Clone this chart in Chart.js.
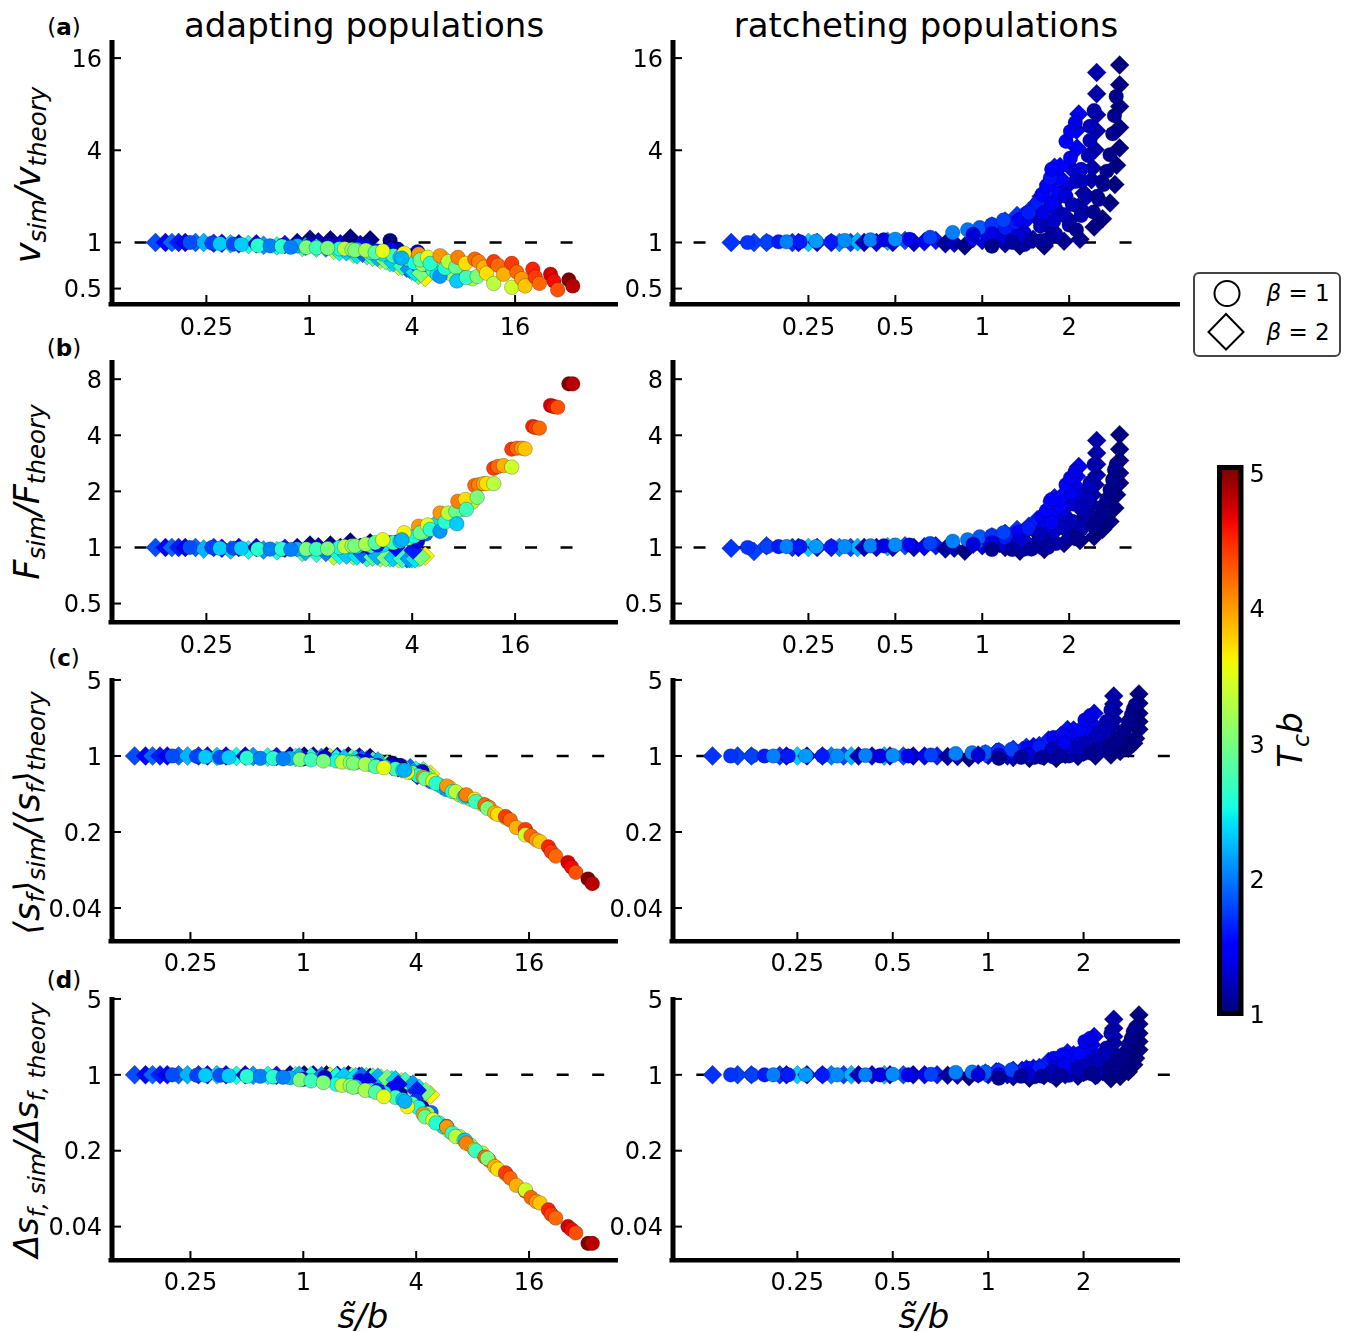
<!DOCTYPE html>
<html>
<head>
<meta charset="utf-8">
<title>adapting and ratcheting populations</title>
<script src="https://cdn.jsdelivr.net/npm/chart.js@4"></script>
<style>
  body { margin: 0; background: #fff; }
  #page { position: relative; width: 1346px; height: 1332px; overflow: hidden; font-family: "DejaVu Sans", sans-serif; color: #000; }
  canvas { position: absolute; }
  .text { position: absolute; transform: translate(-50%, -50%); white-space: nowrap; line-height: 1; }
  .rot { transform: translate(-50%, -50%) rotate(-90deg); }
  .math { font-style: italic; }
  .math sub { font-size: .7em; vertical-align: -.28em; line-height: 0; }
  #legend { position: absolute; left: 1193px; top: 272px; width: 144px; height: 81px; border: 2px solid #444; border-radius: 6px; background: #fff; }
</style>
</head>
<body>
<div id="page">
  <div class="text" style="left:364px;top:25px;font-size:34px">adapting populations</div>
  <div class="text" style="left:926px;top:25px;font-size:34px">ratcheting populations</div>

  <div class="text" style="left:64px;top:27px;font-size:23px">(<b>a</b>)</div>
  <div class="text" style="left:64px;top:348px;font-size:23px">(<b>b</b>)</div>
  <div class="text" style="left:64px;top:658px;font-size:23px">(<b>c</b>)</div>
  <div class="text" style="left:64px;top:980px;font-size:23px">(<b>d</b>)</div>

  <div class="text rot math" style="left:28px;top:175px;font-size:35px">v<sub>sim</sub>/v<sub>theory</sub></div>
  <div class="text rot math" style="left:27px;top:492px;font-size:35px">F<sub>sim</sub>/F<sub>theory</sub></div>
  <div class="text rot math" style="left:27px;top:813px;font-size:35px">⟨s<sub>f</sub>⟩<sub>sim</sub>/⟨s<sub>f</sub>⟩<sub>theory</sub></div>
  <div class="text rot math" style="left:27px;top:1130px;font-size:33.5px">Δs<sub>f, sim</sub>/Δs<sub>f, theory</sub></div>

  <div class="text math" style="left:363px;top:1316px;font-size:34px">s̃/b</div>
  <div class="text math" style="left:924px;top:1316px;font-size:34px">s̃/b</div>
  <div class="text rot math" style="left:1290px;top:740px;font-size:34px">T<sub>c</sub>b</div>

  <div id="legend"></div>
  <svg style="position:absolute;left:1193px;top:272px" width="80" height="84">
    <circle cx="34" cy="21.5" r="12.5" fill="none" stroke="#000" stroke-width="2"></circle>
    <polygon points="33,42 50.5,60 33,77.5 15.5,60" fill="none" stroke="#000" stroke-width="2"></polygon>
  </svg>
  <div class="text" style="left:1298px;top:293px;font-size:23px"><i>β</i> = 1</div>
  <div class="text" style="left:1298px;top:332px;font-size:23px"><i>β</i> = 2</div>
</div>

<script>
// adapting populations, circles (beta = 1)
const adaptCircleX = [2.97,3.29,1.3,2.0,3.0,4.0,4.8,4.3,
  1.5,1.9,2.3,2.7,3.1,3.4,3.8,4.1,4.6,5.3,5.6,6.8,7.8,9,1.0,.85,.7,2.5,
  .20,.27,.30,.36,.40,.50,.59,.69,.78,.96,
  1.10,1.28,1.61,1.78,1.85,2.14,2.43,2.69,
  3.59,3.48,4.36,4.46,4.92,5.1,5.82,6.05,5.82,6.23,
  6.5,7.2,7.3,7.4,8.2,8.3,9.3,9.8,9.6,10.5,
  10.9,12,12,12.7,13.7,15.3,15.3,16.4,17.5,18.3,
  20.3,21,22.2,25.8,27,28.4,33,34.8];
const adaptCircleT = [1.0,1.1,1.3,1.4,1.5,1.7,1.9,1.3,
  2.5,2.3,2.6,2.4,2.7,2.3,2.9,2.5,3.1,2.7,2.4,3.2,3.0,3.3,1.5,2.2,1.6,1.6,
  1.8,1.75,2.3,1.8,2.3,2.6,2.0,2.6,2.0,3.0,
  2.7,3.0,3.3,3.1,3.0,3.2,2.8,3.5,
  3.6,2.2,4.0,2.9,3.5,2.6,2.1,3.7,4.0,2.6,
  3.3,2.9,2.3,4.1,3.7,2.7,4.2,4.1,3.0,3.9,
  3.7,3.3,4.4,4.2,3.9,4.4,3.4,4.2,4.0,3.8,
  4.5,4.4,4.2,4.7,4.6,4.3,5.0,4.8];
const adaptCircleV = [1.03,.905,.97,.94,.90,.82,.72,.87,
  .91,.90,.86,.84,.82,.80,.78,.74,.72,.66,.62,.62,.60,.58,.95,.95,.96,.88,
  1,.99,.98,.975,.97,.955,.95,.945,.93,.93,
  .925,.92,.91,.90,.89,.89,.86,.88,
  .85,.79,.84,.77,.80,.73,.60,.79,.82,.68,
  .75,.69,.56,.80,.73,.59,.78,.75,.60,.69,
  .63,.54,.75,.71,.62,.73,.51,.64,.58,.52,
  .67,.595,.54,.62,.56,.49,.57,.52];
const adaptCircleF = [1.06,1.07,1.0,1.02,1.05,1.10,1.18,1.08,
  1.0,1.01,1.02,1.03,1.06,1.08,1.12,1.15,1.2,1.3,1.35,1.45,1.6,1.75,.99,.98,.98,1.03,
  1,1,.99,.99,.99,.98,.98,.98,.975,.98,
  .98,.985,1.01,1.02,1.02,1.04,1.06,1.10,
  1.20,1.10,1.30,1.20,1.32,1.25,1.22,1.51,1.53,1.37,
  1.53,1.56,1.34,1.77,1.81,1.60,2.15,2.17,1.86,2.2,
  2.2,2.2,2.66,2.72,2.75,3.37,2.70,3.41,3.41,3.38,
  4.46,4.4,4.37,5.78,5.7,5.65,7.55,7.55];
const adaptCircleMean = [.86,.82,.97,.90,.80,.68,.58,.72,
  .90,.87,.83,.80,.76,.74,.70,.66,.62,.54,.51,.44,.40,.36,.94,.95,.96,.82,
  1,.99,.98,.97,.97,.96,.95,.95,.94,.93,
  .92,.90,.88,.87,.86,.84,.80,.78,
  .71,.74,.64,.62,.59,.56,.49,.51,.53,.47,
  .47,.42,.43,.44,.40,.38,.355,.337,.33,.30,
  .29,.27,.277,.258,.22,.211,.188,.184,.169,.163,
  .146,.132,.12,.105,.095,.085,.074,.067];
const adaptCircleWidth = [.68,.66,.95,.88,.75,.58,.45,.50,
  .82,.78,.72,.68,.62,.59,.54,.50,.44,.36,.33,.27,.225,.19,.91,.94,.96,.72,
  1,.99,.99,.99,.98,.97,.97,.96,.95,.90,
  .88,.85,.80,.79,.77,.72,.69,.63,
  .51,.57,.435,.41,.385,.36,.335,.30,.33,.29,
  .27,.249,.25,.235,.204,.20,.175,.163,.17,.143,
  .135,.122,.125,.112,.096,.085,.087,.074,.068,.066,
  .057,.052,.048,.04,.0375,.035,.028,.028];

// adapting populations, diamonds (beta = 2)
const adaptDiamondX = [.126,.144,.157,.172,.188,.216,.241,.276,.308,.346,.387,.44,.49,.54,.646,.72,.85,.91,
  1.01,1.13,1.33,1.39,1.52,1.74,1.81,1.99,2.17,2.27,2.6,2.97,3.33,3.72,3.98,4.36,4.77,
  .95,1.1,1.25,1.5,1.65,1.9,2.05,2.35,2.5,2.8,3.1,3.5,3.85,4.15,4.5,4.05,3.2,2.2];
const adaptDiamondT = [1.8,1.5,1.9,1.6,1.4,1.9,2.2,1.7,1.5,2.3,1.4,2.5,1.3,2.1,2.5,1.6,1.15,2.8,
  1.0,1.2,1.0,3.3,1.3,1.0,3.0,1.25,2.7,1.0,3.2,2.5,3.4,1.9,2.5,2.9,3.6,
  2.2,2.6,2.0,2.5,2.3,2.4,1.9,2.8,2.2,3.0,2.3,2.7,2.1,2.4,3.0,1.6,1.5,1.4];
const adaptDiamondV = [1,1,1,1,1,1,1,.99,.99,.98,.98,.97,.98,.96,.95,.97,1.0,.93,
  1.05,1.01,1.04,.89,.98,1.07,.84,.97,.82,1.04,.77,.74,.70,.68,.65,.61,.59,
  .94,.92,.92,.87,.87,.83,.85,.80,.80,.76,.74,.70,.67,.64,.63,.75,.85,.92];
const adaptDiamondF = [1,1,1,1,1,1,.98,1,.99,.97,1,.97,1,.97,.96,.99,1.0,.94,
  1.03,1.01,1.03,.90,1.0,1.07,.90,1.0,.88,1.06,.88,.88,.87,.87,.87,.88,.90,
  .95,.93,.94,.91,.91,.90,.92,.89,.90,.88,.88,.87,.87,.87,.89,.97,1.0,1.02];
const adaptDiamondMean = [1,1,1,1,1,1,1,1,1,.99,1,.99,1,.99,.98,.99,1,.97,
  1,1,1,.97,.99,1,.95,.98,.92,.97,.86,.80,.76,.78,.74,.73,.68,
  .98,.97,.97,.95,.95,.93,.94,.90,.90,.84,.82,.76,.72,.70,.70,.66,.78,.90];
const adaptDiamondWidth = [1,1,1,1,1,1,1,1,1,1,1,.99,1,.99,.99,.99,1,.98,
  1,1,1,.97,.99,1,.96,.97,.96,.95,.93,.90,.86,.80,.75,.655,.655,
  .99,.98,.98,.97,.97,.96,.97,.95,.95,.92,.90,.87,.82,.75,.70,.72,.82,.88];

// ratcheting populations, diamonds (beta = 2)
const ratchetDiamondX = [.135,.162,.179,.22,.231,.25,.268,.30,.32,.35,.37,.39,.43,.47,.49,.54,.58,.63,.69,.745,.80,.87,.93,1.0,
  .98,1.08,1.2,1.32,1.45,1.6,1.7,1.78,
  1.15,1.35,1.55,1.7,1.85,1.95,2.05,
  1.2,1.5,1.75,2.0,2.15,2.25,
  1.06,1.28,1.39,1.55,1.79,1.86,1.86,2.13,2.12,2.16,
  1.35,1.64,1.92,2.18,
  2.21,2.30,2.39,2.41,2.46,2.49,2.49,2.49,2.49,
  2.44,2.61,2.77,2.88,2.92,2.99,2.99,2.99,2.99,2.99];
const ratchetDiamondT = [1.7,1.75,1.8,1.7,1.5,2.3,1.3,1.6,2.0,1.75,2.2,1.2,1.3,2.2,1.3,1.8,1.2,1.4,1.6,1.1,1.2,1.0,1.5,1.3,
  1.8,1.75,1.7,1.7,1.65,1.6,1.6,1.55,
  1.3,1.3,1.3,1.3,1.3,1.3,1.3,
  1.1,1.1,1.1,1.1,1.1,1.1,
  1.45,1.45,1.45,1.6,1.45,1.5,1.5,1.4,1.4,1.4,
  1.0,1.0,1.05,1.05,
  1.15,1.15,1.15,1.15,1.15,1.15,1.15,1.15,1.15,
  1,1,1,1,1,1,1,1,1,1];
const ratchetDiamondV = [1,1,1,1,1,1,1,1,1,1,1.01,1,1,1.02,1,1.03,1,1.01,1.03,.98,.99,.95,1.06,1.03,
  1.2,1.28,1.38,1.5,1.6,2.0,2.4,3.1,
  1.08,1.2,1.45,1.75,2.0,2.3,3.0,
  .98,1.05,1.2,1.4,1.7,2.1,
  1.1,1.18,1.35,1.81,2.11,2.64,3.14,4.14,5.4,6.9,
  .95,.95,1.02,1.05,
  1.64,2.0,2.57,3.07,4.03,5.36,6.82,9.35,12.9,
  1.26,1.43,1.81,2.39,3.19,4.14,5.64,7.73,10.7,14.4];
const ratchetDiamondF = [.99,.95,1.02,1,1,1,1,1,1,1,1,1,1,1.01,1,1.02,1,1.01,1.02,.98,.99,.955,1.04,1.02,
  1.1,1.14,1.19,1.25,1.3,1.45,1.6,1.85,
  1.05,1.1,1.2,1.35,1.5,1.65,1.9,
  1.0,1.02,1.1,1.2,1.35,1.55,
  1.07,1.12,1.2,1.41,1.5,1.66,1.84,2.09,2.41,2.72,
  .955,.975,1.05,1.09,
  1.3,1.5,1.7,1.92,2.17,2.45,2.8,3.21,3.75,
  1.14,1.25,1.38,1.63,1.92,2.22,2.51,2.93,3.37,4.03];
const ratchetDiamondMean = [1,1,1,1,1,1,1,1,1,1,1,1,1,1,1,1,1,1,1,.99,.99,.96,1.02,1.01,
  1.05,1.1,1.15,1.2,1.25,1.4,1.55,1.75,
  1.0,1.05,1.12,1.2,1.3,1.45,1.6,
  .97,.99,1.03,1.08,1.15,1.25,
  1.08,1.12,1.22,1.4,1.5,1.56,1.73,1.86,2.0,2.47,
  .95,.95,.99,1.0,
  1.14,1.26,1.4,1.56,1.86,2.14,2.56,3.0,3.56,
  1.02,1.1,1.18,1.31,1.45,1.76,2.07,2.47,3.05,3.72];
const ratchetDiamondWidth = [1,1,1,1,1,1,1,1,1,1,1,1,1,1,1,1,1,1,1,.99,.99,.96,1.02,1.0,
  1.04,1.07,1.1,1.13,1.17,1.33,1.45,1.6,
  1.0,1.03,1.08,1.13,1.22,1.33,1.45,
  .96,.98,1.0,1.05,1.1,1.18,
  1.07,1.1,1.15,1.33,1.37,1.42,1.53,1.64,1.89,2.25,
  .93,.93,.97,.98,
  1.0,1.07,1.15,1.37,1.64,1.95,2.25,2.69,3.25,
  .92,.965,1.07,1.24,1.42,1.7,2.03,2.42,2.94,3.56];

// ratcheting populations, circles (beta = 1)
const ratchetCircleX = [1.2,1.4,1.6,1.8,1.95,2.1,2.2,
  1.2,1.3,1.42,1.55,1.65,
  1.4,1.6,1.8,2.0,2.2,2.5,2.6,
  .154,.18,.197,.21,.234,.266,.30,.334,.41,.456,.50,.56,.66,.79,.89,.98,1.08,1.185,1.34,1.45,
  1.61,1.67,1.72,1.74,2.02,1.95,2.02,2.10,2.44,2.36,2.36,2.33,2.21,2.05,1.91,1.77,1.63,1.74,1.59,1.34,1.08,.93,
  1.08,1.27,1.48,1.69,2.12,2.43,2.53,2.63,2.70,2.77,2.83,2.87,2.91];
const ratchetCircleT = [1.3,1.3,1.3,1.3,1.3,1.3,1.3,
  1.6,1.6,1.6,1.6,1.6,
  1.15,1.15,1.15,1.15,1.15,1.15,1.15,
  1.7,1.75,1.6,2.0,1.6,2.1,1.6,2.05,2.0,1.35,2.05,1.4,1.75,2.0,1.95,1.85,1.7,1.75,1.5,1.6,
  1.5,1.5,1.55,1.5,1.4,1.45,1.4,1.35,1.15,1.2,1.2,1.2,1.2,1.2,1.2,1.25,1.35,1.4,1.2,1.3,1.35,1.3,
  1.05,1.1,1.1,1.1,1.05,1.05,1.05,1.05,1.05,1.05,1.05,1.05,1.05];
const ratchetCircleV = [1.05,1.15,1.35,1.65,2.0,2.5,3.0,
  1.25,1.35,1.55,1.8,2.1,
  .97,1.03,1.12,1.3,1.5,2.0,2.5,
  1,1.01,1.01,1.01,1.01,1.02,1.01,1.03,1.04,1.04,1.05,1.05,1.08,1.16,1.21,1.25,1.31,1.40,1.41,1.56,
  2.06,2.35,2.64,3.01,3.56,4.57,5.31,6.07,7.27,5.73,4.63,3.69,2.51,1.77,1.52,1.38,1.56,1.79,1.28,1.10,1.14,1.13,
  .945,1.0,1.02,1.05,1.21,1.58,1.91,2.39,2.92,3.74,5.13,6.73,8.98];
const ratchetCircleF = [1.03,1.08,1.17,1.3,1.45,1.7,1.9,
  1.13,1.18,1.25,1.35,1.5,
  .98,1.0,1.05,1.12,1.25,1.45,1.65,
  1,1.01,1.01,1.01,1.01,1.01,1.01,1.01,1.02,1.02,1.03,1.03,1.05,1.08,1.10,1.14,1.16,1.20,1.21,1.27,
  1.46,1.58,1.77,1.81,1.96,2.17,2.36,2.56,2.78,2.22,2.09,1.81,1.63,1.38,1.27,1.22,1.27,1.36,1.17,1.08,1.06,1.04,
  .975,.975,.98,1.0,1.11,1.3,1.41,1.56,1.81,2.04,2.31,2.61,2.78];
const ratchetCircleMean = [1.0,1.03,1.08,1.17,1.3,1.45,1.62,
  1.1,1.15,1.2,1.3,1.42,
  .97,.98,1.0,1.05,1.1,1.25,1.4,
  1,1,1,1,1,1,1,1,1.01,1,1.01,1,1.02,1.05,1.07,1.08,1.12,1.15,1.18,1.20,
  1.48,1.48,1.56,1.50,1.77,1.73,2.14,2.35,2.65,2.07,1.80,1.67,1.5,1.26,1.18,1.18,1.18,1.31,1.14,1.02,1.02,1.02,
  .95,.97,.97,1.0,1.06,1.18,1.31,1.5,1.73,2.07,2.38,2.69,2.94];
const ratchetCircleWidth = [.99,1.01,1.05,1.1,1.2,1.3,1.45,
  1.08,1.1,1.14,1.22,1.3,
  .96,.97,.99,1.02,1.06,1.15,1.28,
  1,1,1,1,1,1,1,1,1,1,1.01,1,1.01,1.05,1.06,1.06,1.09,1.11,1.15,1.15,
  1.42,1.42,1.53,1.47,1.70,1.58,2.03,2.17,2.42,1.76,1.64,1.53,1.33,1.19,1.11,1.11,1.15,1.24,1.07,1.0,1.0,1.0,
  .93,.97,.97,.99,1.02,1.13,1.24,1.37,1.58,1.89,2.17,2.5,2.69];

// tick labels and the dashed y = 1 reference
const adaptXTicks = [0.25, 1, 4, 16];
const ratchetXTicks = [0.25, 0.5, 1, 2];
const fitnessYTicks = [16, 4, 1, 0.5];
const speedYTicks = [8, 4, 2, 1, 0.5];
const effectYTicks = [5, 1, 0.2, 0.04];
const colorTicks = [1, 2, 3, 4, 5];
const referenceY = [1, 1];
const adaptDashTop = [0.095, 35];
const adaptDashBottom = [0.12, 47];
const ratchetDashTop = [0.10, 3.4];
const ratchetDashBottom = [0.12, 4.0];

// matplotlib jet, value 0-1
const jetPart = function (t, stops) {
  for (let i = 1; i < stops.length; i++) {
    if (t <= stops[i][0]) {
      let a = stops[i - 1];
      let b = stops[i];
      return a[1] + (b[1] - a[1]) * (t - a[0]) / (b[0] - a[0]);
    }
  }
  return stops[stops.length - 1][1];
};

const jet = function (t) {
  let r = jetPart(t, [[0, 0], [0.35, 0], [0.66, 1], [0.89, 1], [1, 0.5]]);
  let g = jetPart(t, [[0, 0], [0.125, 0], [0.375, 1], [0.64, 1], [0.91, 0], [1, 0]]);
  let b = jetPart(t, [[0, 0.5], [0.11, 1], [0.34, 1], [0.65, 0], [1, 0]]);
  return `rgb(${Math.round(r * 255)},${Math.round(g * 255)},${Math.round(b * 255)})`;
};

const tcColor = function (tc) {
  return jet((tc - 1) / 4);
};

const axisLines = {
  id: "axisLines",
  beforeDatasetsDraw: function (chart) {
    const ctx = chart.ctx;
    const area = chart.chartArea;
    ctx.save();
    ctx.fillStyle = "#000";
    ctx.fillRect(area.left - 2.5, area.top, 5, area.bottom - area.top + 2);
    ctx.fillRect(area.left - 3.5, area.bottom - 2, area.right - area.left + 3.5, 4.5);
    for (let tick of chart.scales.y.ticks) {
      ctx.fillRect(area.left + 2, chart.scales.y.getPixelForValue(tick.value) - 1, 7, 2);
    }
    for (let tick of chart.scales.x.ticks) {
      ctx.fillRect(chart.scales.x.getPixelForValue(tick.value) - 1, area.bottom - 9, 2, 8);
    }
    ctx.restore();
  }
};

const points = function (xs, ys) {
  return xs.map(function (x, i) {
    return { x: x, y: ys[i] };
  });
};

const addPanel = function (p) {
  const padLeft = 100, padTop = 40, padRight = 20, padBottom = 50;
  let canvas = document.createElement("canvas");
  canvas.width = p.right - p.left + padLeft + padRight;
  canvas.height = p.bottom - p.top + padTop + padBottom;
  canvas.style.left = (p.left - padLeft) + "px";
  canvas.style.top = (p.top - padTop) + "px";
  document.querySelector("#page").appendChild(canvas);

  new Chart(canvas.getContext("2d"), {
    type: "scatter",
    data: {
      datasets: [
        {
          data: points(p.circleX, p.circleY),
          order: 1,
          pointStyle: "circle",
          pointRadius: 7.3,
          pointBorderWidth: 0.7,
          pointBorderColor: "rgba(0,0,0,0.35)",
          pointBackgroundColor: p.circleT.map(tcColor)
        },
        {
          data: points(p.diamondX, p.diamondY),
          order: 2,
          pointStyle: "rectRot",
          pointRadius: 9.5,
          pointBorderWidth: 0.7,
          pointBorderColor: "rgba(0,0,0,0.35)",
          pointBackgroundColor: p.diamondT.map(tcColor)
        },
        {
          data: points(p.dashX, referenceY),
          order: 3,
          showLine: true,
          pointRadius: 0,
          borderColor: "#000",
          borderWidth: 2.5,
          borderDash: [12, 23.5]
        }
      ]
    },
    options: {
      responsive: false,
      animation: false,
      events: [],
      layout: { padding: { top: padTop, right: padRight } },
      plugins: { legend: { display: false }, tooltip: { enabled: false } },
      scales: {
        x: {
          type: "logarithmic",
          min: p.xMin,
          max: p.xMax,
          grid: { display: false, drawTicks: false },
          border: { display: false },
          ticks: {
            autoSkip: false,
            maxRotation: 0,
            padding: p.xPad,
            color: "#000",
            font: { family: "DejaVu Sans", size: p.fontSize },
            callback: function (value) { return String(value); }
          },
          afterBuildTicks: function (scale) {
            scale.ticks = p.xTicks.map(function (v) { return { value: v }; });
          },
          afterFit: function (scale) { scale.height = padBottom; }
        },
        y: {
          type: "logarithmic",
          min: p.yMin,
          max: p.yMax,
          grid: { display: false, drawTicks: false },
          border: { display: false },
          ticks: {
            autoSkip: false,
            padding: 10,
            labelOffset: 2.5,
            color: "#000",
            font: { family: "DejaVu Sans", size: p.fontSize },
            callback: function (value) { return String(value); }
          },
          afterBuildTicks: function (scale) {
            scale.ticks = p.yTicks.map(function (v) { return { value: v }; });
          },
          afterFit: function (scale) { scale.width = padLeft; }
        }
      }
    },
    plugins: [axisLines]
  });
};

const colorbarFill = {
  id: "colorbarFill",
  beforeDatasetsDraw: function (chart) {
    const ctx = chart.ctx;
    const area = chart.chartArea;
    let grad = ctx.createLinearGradient(0, area.bottom - 5, 0, area.top + 5);
    for (let i = 0; i <= 40; i++) {
      grad.addColorStop(i / 40, jet(i / 40));
    }
    ctx.save();
    ctx.fillStyle = "#000";
    ctx.fillRect(area.left, area.top, area.right - area.left, area.bottom - area.top);
    ctx.fillStyle = grad;
    ctx.fillRect(area.left + 5, area.top + 5, area.right - area.left - 10, area.bottom - area.top - 10);
    ctx.restore();
  }
};

const addColorbar = function () {
  let canvas = document.createElement("canvas");
  canvas.width = 70;
  canvas.height = 611;
  canvas.style.left = "1217px";
  canvas.style.top = "435px";
  document.querySelector("#page").appendChild(canvas);

  new Chart(canvas.getContext("2d"), {
    type: "scatter",
    data: { datasets: [{ data: [] }] },
    options: {
      responsive: false,
      animation: false,
      events: [],
      layout: { padding: { top: 30, bottom: 30 } },
      plugins: { legend: { display: false }, tooltip: { enabled: false } },
      scales: {
        x: { display: false },
        y: {
          position: "right",
          min: 1.007,
          max: 5.081,
          grid: { display: false, drawTicks: false },
          border: { display: false },
          ticks: {
            autoSkip: false,
            padding: 6,
            color: "#000",
            font: { family: "DejaVu Sans", size: 24 }
          },
          afterBuildTicks: function (scale) {
            scale.ticks = colorTicks.map(function (v) { return { value: v }; });
          },
          afterFit: function (scale) { scale.width = 43.5; }
        }
      }
    },
    plugins: [colorbarFill]
  });
};

const leftTop = { left: 111.5, right: 618, xMin: 0.0701, xMax: 64, xTicks: adaptXTicks, dashX: adaptDashTop, fontSize: 24, xPad: 10,
  circleX: adaptCircleX, circleT: adaptCircleT, diamondX: adaptDiamondX, diamondT: adaptDiamondT };
const leftBottom = { left: 111.5, right: 618, xMin: 0.0954, xMax: 47.7, xTicks: adaptXTicks, dashX: adaptDashBottom, fontSize: 24, xPad: 9,
  circleX: adaptCircleX, circleT: adaptCircleT, diamondX: adaptDiamondX, diamondT: adaptDiamondT };
const rightTop = { left: 672.5, right: 1180, xMin: 0.0849, xMax: 4.84, xTicks: ratchetXTicks, dashX: ratchetDashTop, fontSize: 24, xPad: 10,
  circleX: ratchetCircleX, circleT: ratchetCircleT, diamondX: ratchetDiamondX, diamondT: ratchetDiamondT };
const rightBottom = { left: 672.5, right: 1180, xMin: 0.1013, xMax: 4.03, xTicks: ratchetXTicks, dashX: ratchetDashBottom, fontSize: 24, xPad: 9,
  circleX: ratchetCircleX, circleT: ratchetCircleT, diamondX: ratchetDiamondX, diamondT: ratchetDiamondT };

const rowA = { top: 40, bottom: 304.7, yMin: 0.3965, yMax: 21, yTicks: fitnessYTicks };
const rowB = { top: 360, bottom: 622.7, yMin: 0.398, yMax: 10.14, yTicks: speedYTicks };
const rowC = { top: 678, bottom: 941, yMin: 0.0199, yMax: 5.21, yTicks: effectYTicks };
const rowD = { top: 997, bottom: 1260.5, yMin: 0.0197, yMax: 5.21, yTicks: effectYTicks };

document.addEventListener("DOMContentLoaded", function () {
  addPanel({ ...leftTop, ...rowA, circleY: adaptCircleV, diamondY: adaptDiamondV });
  addPanel({ ...rightTop, ...rowA, circleY: ratchetCircleV, diamondY: ratchetDiamondV });
  addPanel({ ...leftTop, ...rowB, circleY: adaptCircleF, diamondY: adaptDiamondF });
  addPanel({ ...rightTop, ...rowB, circleY: ratchetCircleF, diamondY: ratchetDiamondF });
  addPanel({ ...leftBottom, ...rowC, circleY: adaptCircleMean, diamondY: adaptDiamondMean });
  addPanel({ ...rightBottom, ...rowC, circleY: ratchetCircleMean, diamondY: ratchetDiamondMean });
  addPanel({ ...leftBottom, ...rowD, circleY: adaptCircleWidth, diamondY: adaptDiamondWidth });
  addPanel({ ...rightBottom, ...rowD, circleY: ratchetCircleWidth, diamondY: ratchetDiamondWidth });
  addColorbar();
});
</script>
</body>
</html>
